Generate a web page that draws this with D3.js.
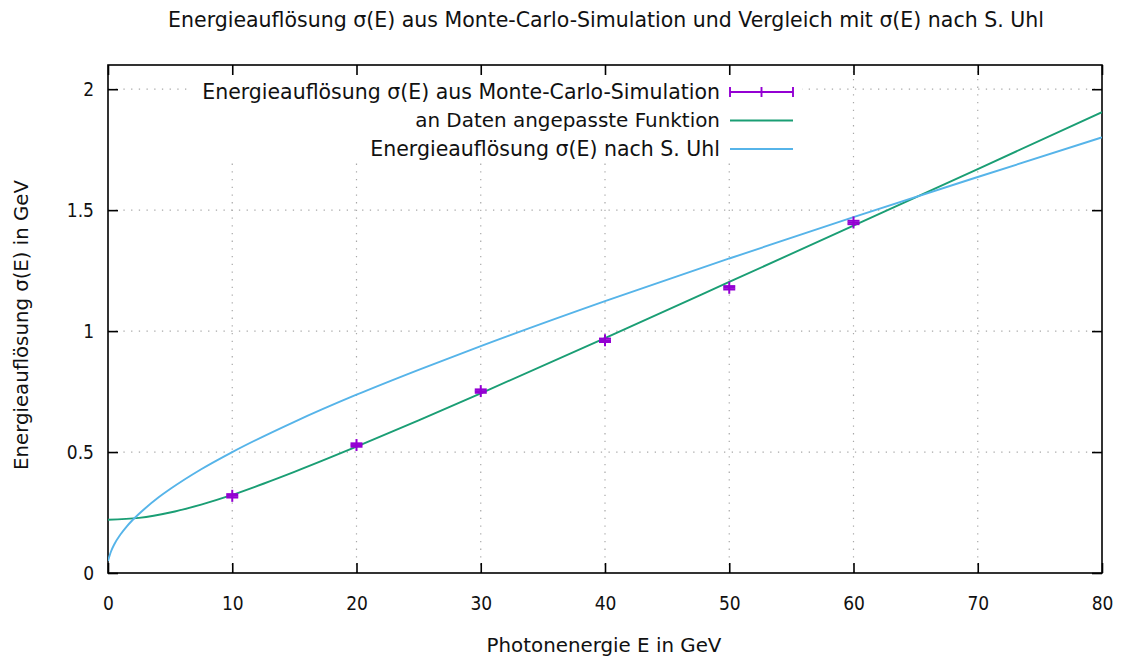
<!DOCTYPE html>
<html>
<head>
<meta charset="utf-8">
<script src="https://cdn.jsdelivr.net/npm/d3@7"></script>
<style>
  html, body { margin: 0; padding: 0; background: #fff; }
  svg { display: block; }
  text { font-family: "DejaVu Sans", Verdana, sans-serif; fill: #111; }
  .tick text { font-family: "DejaVu Sans Condensed", "DejaVu Sans", sans-serif; font-stretch: condensed; font-size: 19px; }
</style>
</head>
<body>
<svg id="chart" width="1124" height="657"></svg>
<script>
// ---------- data ----------
const titleText = "Energieauflösung σ(E) aus Monte-Carlo-Simulation und Vergleich mit σ(E) nach S. Uhl";
const xLabel = "Photonenergie E in GeV";
const yLabel = "Energieauflösung σ(E) in GeV";
const legendLabels = [
  "Energieauflösung σ(E) aus Monte-Carlo-Simulation",
  "an Daten angepasste Funktion",
  "Energieauflösung σ(E) nach S. Uhl"
];
const xTicks = [0, 10, 20, 30, 40, 50, 60, 70, 80];
const yTicks = [0, 0.5, 1, 1.5, 2];
const xDomain = [0, 80];
const yDomain = [0, 2.1];

// Monte-Carlo points (E in GeV, sigma in GeV, error)
const mcEnergy = [10, 20, 30, 40, 50, 60];
const mcSigma  = [0.319, 0.529, 0.752, 0.962, 1.179, 1.449];
const mcError  = [0.007, 0.007, 0.007, 0.007, 0.007, 0.007];

// fitted function
const fitEnergy = [0, 2.5, 5, 7.5, 10, 12.5, 15, 20, 25, 30, 40, 50, 60, 70, 80];
const fitSigma  = [0.220, 0.228, 0.250, 0.283, 0.323, 0.369, 0.418, 0.522, 0.631, 0.743, 0.971, 1.203, 1.436, 1.670, 1.905];

// sigma(E) after S. Uhl
const uhlEnergy = [0, 0.25, 0.5, 1, 1.5, 2, 3, 4, 5, 7.5, 10, 15, 20, 25, 30, 40, 50, 60, 70, 80];
const uhlSigma  = [0.050, 0.090, 0.118, 0.159, 0.192, 0.220, 0.268, 0.310, 0.347, 0.429, 0.500, 0.625, 0.737, 0.840, 0.938, 1.124, 1.300, 1.471, 1.637, 1.801];

const colMC = "#9400d3", colFit = "#1a9e74", colUhl = "#56b4e9";

// ---------- layout ----------
const svg = d3.select("#chart");
const m = { left: 108, right: 1102, top: 65, bottom: 573 };
const x = d3.scaleLinear().domain(xDomain).range([m.left, m.right]);
const y = d3.scaleLinear().domain(yDomain).range([m.bottom, m.top]);

// fit text to a target width
function fitText(sel, target, base) {
  sel.style("font-size", base + "px");
  const w = sel.node().getComputedTextLength();
  sel.style("font-size", (base * target / w) + "px");
  return sel;
}

// grid
const grid = svg.append("g").attr("stroke", "#a8a8a8").attr("stroke-width", 1.2)
  .attr("stroke-dasharray", "1.3,6.4");
grid.selectAll("line.gx").data(xTicks.filter(d => d > xDomain[0] && d < xDomain[1]))
  .join("line").attr("x1", d => x(d)).attr("x2", d => x(d))
  .attr("y1", m.bottom).attr("y2", m.top);
grid.selectAll("line.gy").data(yTicks.filter(d => d > yDomain[0]))
  .join("line").attr("y1", d => y(d)).attr("y2", d => y(d))
  .attr("x1", m.left).attr("x2", m.right);

// opaque key box
svg.append("rect").attr("x", 192).attr("y", m.top + 1).attr("width", 610).attr("height", 97).attr("fill", "#fff");

// axes with inward ticks on all sides
const tickLen = 10;
const xAxisB = d3.axisBottom(x).tickValues(xTicks).tickSize(-tickLen).tickPadding(24).tickFormat(d3.format("d"));
const xAxisT = d3.axisTop(x).tickValues(xTicks).tickSize(-tickLen).tickFormat("");
const yAxisL = d3.axisLeft(y).tickValues(yTicks).tickSize(-tickLen).tickPadding(14).tickFormat(d => d);
const yAxisR = d3.axisRight(y).tickValues(yTicks).tickSize(-tickLen).tickFormat("");

function styleAxis(g) {
  g.attr("font-size", 19).attr("font-family", null);
  g.select(".domain").remove();
  g.selectAll(".tick line").attr("stroke", "#000").attr("stroke-width", 1.6);
  g.selectAll(".tick text").attr("fill", "#111");
}
svg.append("g").attr("transform", `translate(0,${m.bottom})`).call(xAxisB).call(styleAxis);
svg.append("g").attr("transform", `translate(0,${m.top})`).call(xAxisT).call(styleAxis);
svg.append("g").attr("transform", `translate(${m.left},0)`).call(yAxisL).call(styleAxis);
svg.append("g").attr("transform", `translate(${m.right},0)`).call(yAxisR).call(styleAxis);

// frame
svg.append("rect").attr("x", m.left).attr("y", m.top)
  .attr("width", m.right - m.left).attr("height", m.bottom - m.top)
  .attr("fill", "none").attr("stroke", "#000").attr("stroke-width", 1.6);

// curves
const clip = svg.append("clipPath").attr("id", "clip").append("rect")
  .attr("x", m.left).attr("y", m.top).attr("width", m.right - m.left).attr("height", m.bottom - m.top);
const line = d3.line().x(d => x(d[0])).y(d => y(d[1])).curve(d3.curveMonotoneX);
const plot = svg.append("g").attr("clip-path", "url(#clip)");
plot.append("path").datum(fitEnergy.map((e, i) => [e, fitSigma[i]]))
  .attr("d", line).attr("fill", "none").attr("stroke", colFit).attr("stroke-width", 1.9);
plot.append("path").datum(uhlEnergy.map((e, i) => [e, uhlSigma[i]]))
  .attr("d", line).attr("fill", "none").attr("stroke", colUhl).attr("stroke-width", 1.9);

// error bars + points
const cap = 6, pt = 6;
const mc = plot.append("g").attr("stroke", colMC).attr("stroke-width", 2);
mcEnergy.forEach((e, i) => {
  const cx = x(e), lo = y(mcSigma[i] - mcError[i]), hi = y(mcSigma[i] + mcError[i]), cy = y(mcSigma[i]);
  mc.append("line").attr("x1", cx).attr("x2", cx).attr("y1", lo).attr("y2", hi);
  mc.append("line").attr("x1", cx - cap).attr("x2", cx + cap).attr("y1", lo).attr("y2", lo);
  mc.append("line").attr("x1", cx - cap).attr("x2", cx + cap).attr("y1", hi).attr("y2", hi);
  mc.append("line").attr("x1", cx - pt).attr("x2", cx + pt).attr("y1", cy).attr("y2", cy);
  mc.append("line").attr("x1", cx).attr("x2", cx).attr("y1", cy - pt).attr("y2", cy + pt);
});

// legend
const keyRight = 720, sx1 = 730, sx2 = 793;
const rowsY = [92, 120.5, 149];
legendLabels.forEach((lab, i) => {
  const t = svg.append("text").attr("x", keyRight).attr("y", rowsY[i]).attr("dy", "0.35em")
    .attr("text-anchor", "end").text(lab);
  fitText(t, [518, 305, 350][i], 17);
});
svg.append("line").attr("x1", sx1).attr("x2", sx2).attr("y1", rowsY[0]).attr("y2", rowsY[0]).attr("stroke", colMC).attr("stroke-width", 1.9);
[sx1, (sx1 + sx2) / 2, sx2].forEach(px => {
  svg.append("line").attr("x1", px).attr("x2", px).attr("y1", rowsY[0] - 5).attr("y2", rowsY[0] + 5)
    .attr("stroke", colMC).attr("stroke-width", 1.9);
});
svg.append("line").attr("x1", sx1).attr("x2", sx2).attr("y1", rowsY[1]).attr("y2", rowsY[1]).attr("stroke", colFit).attr("stroke-width", 1.9);
svg.append("line").attr("x1", sx1).attr("x2", sx2).attr("y1", rowsY[2]).attr("y2", rowsY[2]).attr("stroke", colUhl).attr("stroke-width", 1.9);

// titles
const tt = svg.append("text").attr("x", 606).attr("y", 20).attr("dy", "0.35em").attr("text-anchor", "middle").text(titleText);
fitText(tt, 876, 16);
const xl = svg.append("text").attr("x", 604).attr("y", 645).attr("dy", "0.35em").attr("text-anchor", "middle").text(xLabel);
fitText(xl, 235, 17);
const yl = svg.append("text").attr("transform", "translate(21,325) rotate(-90)").attr("dy", "0.35em").attr("text-anchor", "middle").text(yLabel);
fitText(yl, 290, 17);
</script>
</body>
</html>
